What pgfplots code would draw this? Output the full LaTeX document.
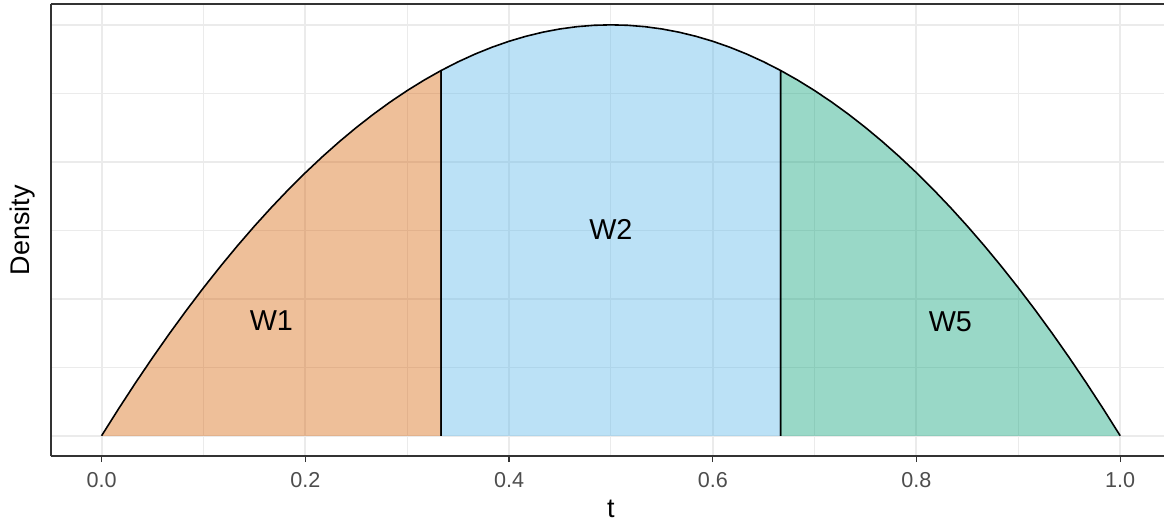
\documentclass[border=0pt]{standalone}
\usepackage{pgfplots}
\pgfplotsset{compat=1.18}
\usepackage{pgfplotstable}
\usepackage{fontspec}
\setmainfont{Liberation Sans}
\definecolor{cW1}{HTML}{D55E00}
\definecolor{cW2}{HTML}{56B4E9}
\definecolor{cW5}{HTML}{009E73}
\definecolor{gridc}{HTML}{EBEBEB}
\definecolor{axc}{HTML}{333333}
\definecolor{tickc}{HTML}{4D4D4D}

\pgfplotstableread{
t d
0 0
0.016667 0.098333
0.033333 0.193333
0.05 0.285
0.066667 0.373333
0.083333 0.458333
0.1 0.54
0.116667 0.618333
0.133333 0.693333
0.15 0.765
0.166667 0.833333
0.183333 0.898333
0.2 0.96
0.216667 1.018333
0.233333 1.073333
0.25 1.125
0.266667 1.173333
0.283333 1.218333
0.3 1.26
0.316667 1.298333
0.333333 1.333333
0.333333 0
}\segA

\pgfplotstableread{
t d
0.333333 0
0.333333 1.333333
0.35 1.365
0.366667 1.393333
0.383333 1.418333
0.4 1.44
0.416667 1.458333
0.433333 1.473333
0.45 1.485
0.466667 1.493333
0.483333 1.498333
0.5 1.5
0.516667 1.498333
0.533333 1.493333
0.55 1.485
0.566667 1.473333
0.583333 1.458333
0.6 1.44
0.616667 1.418333
0.633333 1.393333
0.65 1.365
0.666667 1.333333
0.666667 0
}\segB

\pgfplotstableread{
t d
0.666667 0
0.666667 1.333333
0.683333 1.298333
0.7 1.26
0.716667 1.218333
0.733333 1.173333
0.75 1.125
0.766667 1.073333
0.783333 1.018333
0.8 0.96
0.816667 0.898333
0.833333 0.833333
0.85 0.765
0.866667 0.693333
0.883333 0.618333
0.9 0.54
0.916667 0.458333
0.933333 0.373333
0.95 0.285
0.966667 0.193333
0.983333 0.098333
1 0
}\segC

\begin{document}
\begin{tikzpicture}
\begin{axis}[
  scale only axis,
  width=557.15pt, height=226.2pt,
  xmin=-0.05, xmax=1.043,
  ymin=-0.075, ymax=1.575,
  axis x line*=box, axis y line*=left,
  axis line style={-, draw=axc, line width=1pt},
  xtick={0,0.2,0.4,0.6,0.8,1},
  xticklabels={0.0,0.2,0.4,0.6,0.8,1.0},
  minor x tick num=1,
  ytick={0,0.5,1,1.5},
  yticklabels={},
  minor y tick num=1,
  xtick pos=lower,
  tick align=outside,
  major tick length=2.9pt,
  minor tick length=0pt,
  xtick style={draw=axc, line width=0.6pt},
  ytick style={draw=none},
  grid=both,
  major grid style={draw=gridc, line width=1pt},
  minor grid style={draw=gridc, line width=0.5pt},
  xticklabel style={font=\fontsize{10.8}{12}\selectfont, text=tickc, yshift=-1.5pt},
  xlabel={t},
  ylabel={Density},
  xlabel style={at={([yshift=-30.65pt]axis description cs:0.5032,0)}, anchor=base, font=\fontsize{13.5}{15}\selectfont},
  ylabel style={at={([xshift=-10.7pt]axis description cs:0,0.5)}, anchor=base, font=\fontsize{13.5}{15}\selectfont},
]
\addplot[draw=black, line width=0.8pt, line join=round, fill=cW1, fill opacity=0.4] table[x=t,y=d] {\segA};
\addplot[draw=black, line width=0.8pt, line join=round, fill=cW2, fill opacity=0.4] table[x=t,y=d] {\segB};
\addplot[draw=black, line width=0.8pt, line join=round, fill=cW5, fill opacity=0.4] table[x=t,y=d] {\segC};
\node[font=\fontsize{14.4}{16}\selectfont] at (axis cs:0.1667,0.419) {W1};
\node[font=\fontsize{14.4}{16}\selectfont] at (axis cs:0.5,0.752) {W2};
\node[font=\fontsize{14.4}{16}\selectfont] at (axis cs:0.8333,0.416) {W5};
\end{axis}
\path (-25.35pt,-32.65pt) rectangle (557.15pt,228.35pt);
\end{tikzpicture}
\end{document}
